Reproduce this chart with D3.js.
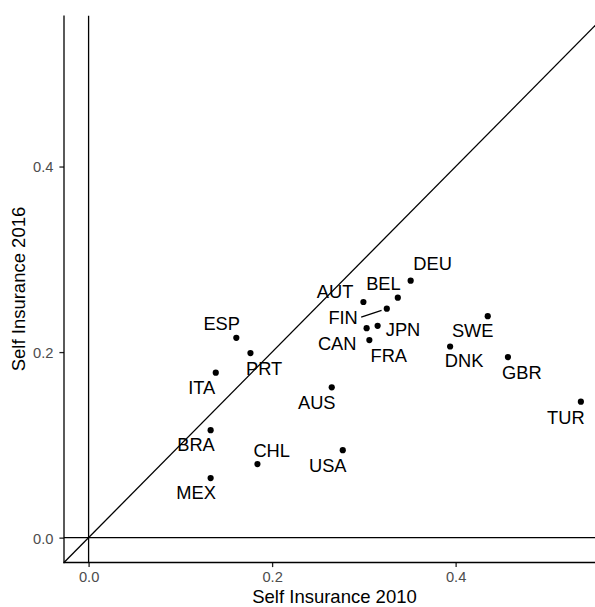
<!DOCTYPE html>
<html>
<head>
<meta charset="utf-8">
<script src="https://cdn.jsdelivr.net/npm/d3@7"></script>
<style>
  html, body { margin: 0; padding: 0; background: #fff; }
  svg { display: block; }
  text { font-family: "Liberation Sans", Arial, Helvetica, sans-serif; }
</style>
</head>
<body>
<svg id="chart" width="595" height="607"></svg>
<script>
// ---- data ----
const countries = ["DEU","BEL","AUT","FIN","CAN","JPN","FRA","SWE","DNK","GBR","AUS","TUR","BRA","CHL","USA","MEX","ITA","ESP","PRT"];
const insurance2010 = [0.351,0.337,0.2995,0.325,0.303,0.315,0.306,0.435,0.394,0.457,0.265,0.5365,0.133,0.184,0.277,0.133,0.1386,0.161,0.1764];
const insurance2016 = [0.277,0.2586,0.254,0.2468,0.2258,0.2283,0.2129,0.2387,0.206,0.1946,0.162,0.1466,0.1158,0.0793,0.0943,0.0642,0.1778,0.2154,0.1989];
const xTicks = [0, 0.2, 0.4];
const yTicks = [0, 0.2, 0.4];
const xTitle = "Self Insurance 2010";
const yTitle = "Self Insurance 2016";

// ---- layout (label offsets in px, repel-like placement) ----
const labelOffsets = {
  DEU:[22,-17], BEL:[-14.4,-14], AUT:[-28.3,-10.3], FIN:[-43.7,9], CAN:[-29.4,15.4],
  JPN:[25.4,4], FRA:[19.4,15.4], SWE:[-15,14.7], DNK:[14,14.3], GBR:[14,15.4],
  AUS:[-15,15.6], TUR:[-15,15.7], BRA:[-14.6,14.6], CHL:[14.3,-13.7], USA:[-15,15.3],
  MEX:[-14.6,14.6], ITA:[-14,15.3], ESP:[-14.6,-14.3], PRT:[13.7,15.4]
};
const segmentLabels = ["FIN"];

const svg = d3.select("#chart");
const panel = {left: 64, right: 605, top: 15.5, bottom: 562.5};
const lim = [-0.0268, 0.5628];

const x = d3.scaleLinear().domain(lim).range([panel.left, panel.right]);
const y = d3.scaleLinear().domain(lim).range([panel.bottom, panel.top]);

svg.append("defs").append("clipPath").attr("id","clip")
  .append("rect").attr("x", panel.left).attr("y", panel.top)
  .attr("width", panel.right - panel.left).attr("height", panel.bottom - panel.top);

const g = svg.append("g").attr("clip-path","url(#clip)");
const lw = 1.3;

// reference lines
g.append("line").attr("x1", x(lim[0])).attr("x2", x(lim[1])).attr("y1", y(0)).attr("y2", y(0))
  .attr("stroke","#000").attr("stroke-width", lw);
g.append("line").attr("x1", x(0)).attr("x2", x(0)).attr("y1", y(lim[0])).attr("y2", y(lim[1]))
  .attr("stroke","#000").attr("stroke-width", lw);
g.append("line").attr("x1", x(lim[0])).attr("y1", y(lim[0])).attr("x2", x(lim[1])).attr("y2", y(lim[1]))
  .attr("stroke","#000").attr("stroke-width", lw);

const data = countries.map((c,i)=>({c, x: insurance2010[i], y: insurance2016[i]}));

// segments
const fontSize = 18.3;
data.filter(d => segmentLabels.includes(d.c)).forEach(d => {
  const px = x(d.x), py = y(d.y);
  const [dx, dy] = labelOffsets[d.c];
  const w = d.c.length * 0.55 * fontSize;
  const sx = px + dx + w/2 + 3, sy = py + dy - 0.5;
  const vx = px - sx, vy = py - sy, len = Math.hypot(vx, vy);
  const ex = px - vx/len*5.5, ey = py - vy/len*5.5;
  g.append("line").attr("x1", sx).attr("y1", sy).attr("x2", ex).attr("y2", ey)
    .attr("stroke","#000").attr("stroke-width", 1.3);
});

// points
g.selectAll("circle.pt").data(data).join("circle").attr("class","pt")
  .attr("cx", d => x(d.x)).attr("cy", d => y(d.y)).attr("r", 3.1).attr("fill","#000");

// labels
g.selectAll("text.lab").data(data).join("text").attr("class","lab")
  .attr("x", d => x(d.x) + labelOffsets[d.c][0])
  .attr("y", d => y(d.y) + labelOffsets[d.c][1] + 6.5)
  .attr("text-anchor","middle").attr("font-size", fontSize).attr("fill","#000")
  .text(d => d.c);

// axes
const fmt = d3.format(".1f");
const xAxis = svg.append("g").attr("transform", `translate(0,${panel.bottom})`)
  .call(d3.axisBottom(x).tickValues(xTicks).tickFormat(fmt).tickSizeOuter(0).tickSize(4.6));
const yAxis = svg.append("g").attr("transform", `translate(${panel.left},0)`)
  .call(d3.axisLeft(y).tickValues(yTicks).tickFormat(fmt).tickSizeOuter(0).tickSize(4.6));

[xAxis, yAxis].forEach(a => {
  a.select(".domain").remove();
  a.selectAll(".tick line").attr("stroke","#222").attr("stroke-width", lw);
  a.selectAll(".tick text").attr("fill","#4d4d4d").attr("font-size", 14.7)
    .attr("font-family", '"Liberation Sans", Arial, sans-serif');
});
xAxis.selectAll(".tick text").attr("y", 19.5).attr("dy", 0);
yAxis.selectAll(".tick text").attr("x", -10.5).attr("dy", "0.37em");

// axis lines
svg.append("line").attr("x1", panel.left).attr("x2", panel.left)
  .attr("y1", panel.top).attr("y2", panel.bottom + lw/2)
  .attr("stroke","#000").attr("stroke-width", lw);
svg.append("line").attr("x1", panel.left - lw/2).attr("x2", panel.right)
  .attr("y1", panel.bottom).attr("y2", panel.bottom)
  .attr("stroke","#000").attr("stroke-width", lw);

// titles
svg.append("text").attr("x", (panel.left + panel.right)/2).attr("y", 603)
  .attr("text-anchor","middle").attr("font-size", 18.5).attr("fill","#000").text(xTitle);
svg.append("text").attr("transform", `translate(25,${(panel.top + panel.bottom)/2}) rotate(-90)`)
  .attr("text-anchor","middle").attr("font-size", 18.5).attr("fill","#000").text(yTitle);
</script>
</body>
</html>
